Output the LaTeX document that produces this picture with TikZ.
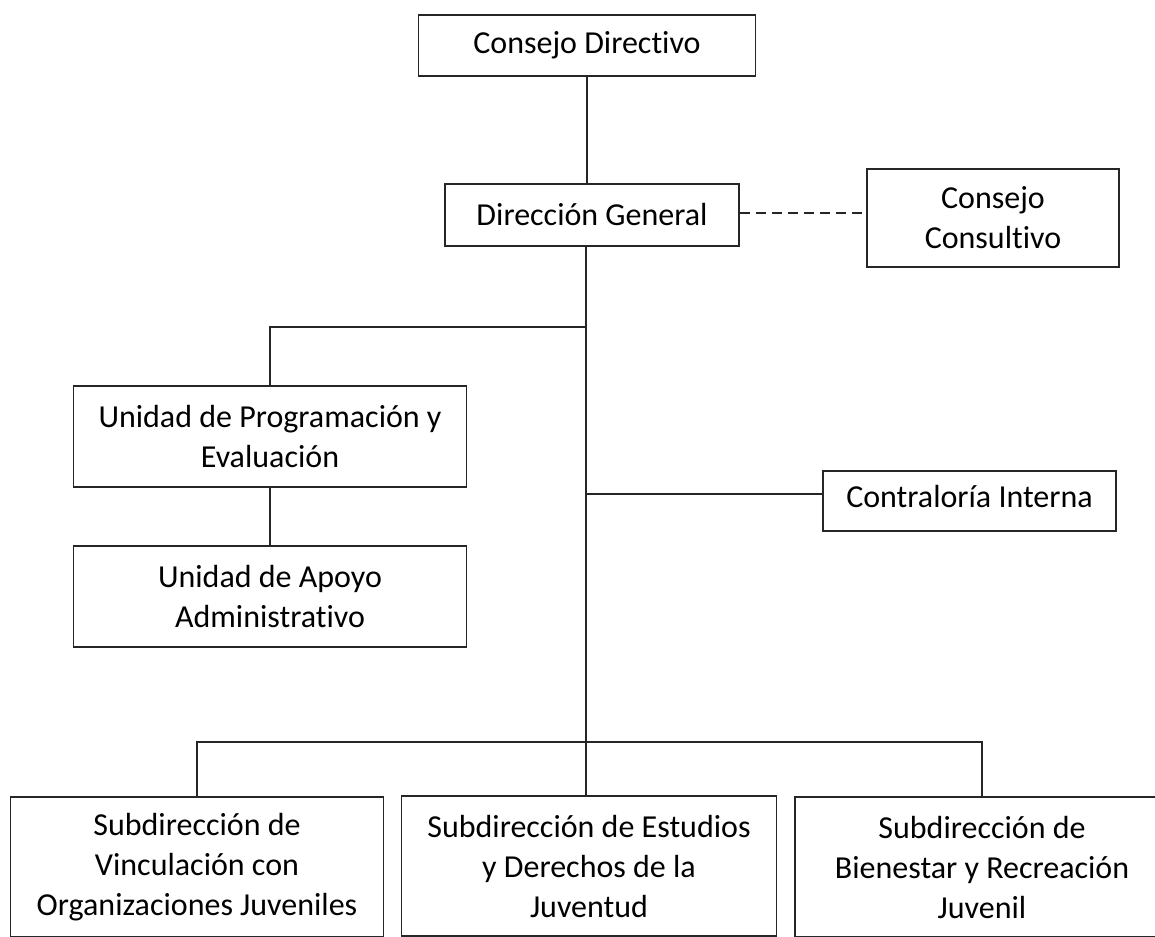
\documentclass[tikz,border=0pt]{standalone}
\usepackage{fontspec}
\setmainfont{Carlito}[Ligatures=NoCommon]
\usetikzlibrary{calc}
\begin{document}
\begin{tikzpicture}[x=1pt,y=-1pt,
  box/.style={draw=black!85, line width=1.8pt, rectangle, align=center, inner sep=0pt,
    font=\fontsize{32}{40}\selectfont, text=black},
  conn/.style={draw=black!85, line width=1.8pt},
  dashconn/.style={conn, dash pattern=on 10pt off 6pt}]
\clip (0,0) rectangle (1155,936);
\fill[white] (0,0) rectangle (1155,936);
\node[box, minimum width=337pt, minimum height=61pt] (cd) at (587,45.5) {Consejo Directivo};
\node[box, minimum width=294pt, minimum height=62pt] (dg) at (592,215) {Dirección General};
\node[box, minimum width=252pt, minimum height=98pt] (cc) at (993,218) {Consejo\\Consultivo};
\node[box, minimum width=393pt, minimum height=101pt] (up) at (270,436.5) {Unidad de Programación y\\Evaluación};
\node[box, minimum width=393pt, minimum height=101pt] (ua) at (270,596.5) {Unidad de Apoyo\\Administrativo};
\node[box, minimum width=293pt, minimum height=60pt] (ci) at (969.5,501) {Contraloría Interna\rule[-10pt]{0pt}{1pt}};
\node[box, minimum width=373pt, minimum height=140pt] (s1) at (197,867) {Subdirección de\\Vinculación con\\Organizaciones Juveniles};
\node[box, minimum width=375pt, minimum height=140pt] (s2) at (589,866) {Subdirección de Estudios\\y Derechos de la\\Juventud};
\node[box, minimum width=374pt, minimum height=140pt] (s3) at (982,867) {Subdirección de\\Bienestar y Recreación\\Juvenil};
\coordinate (tA) at (586,327);
\coordinate (tC) at (586,494);
\coordinate (tB) at (586,742);
\draw[conn] (cd.south) -- (cd.south |- dg.north);
\draw[conn] (tA |- dg.south) -- (tB);
\draw[conn] (tA) -| (up.north);
\draw[conn] (up.south) -- (ua.north);
\draw[conn] (tC) -- (tC -| ci.west);
\draw[conn] (s1.north) |- (tB) -| (s3.north);
\draw[conn] (tB) -- (tB |- s2.north);
\draw[dashconn] ($(dg.east)+(0,-2)$) -- ($(dg.east -| cc.west)+(0,-2)$);
\end{tikzpicture}
\end{document}
